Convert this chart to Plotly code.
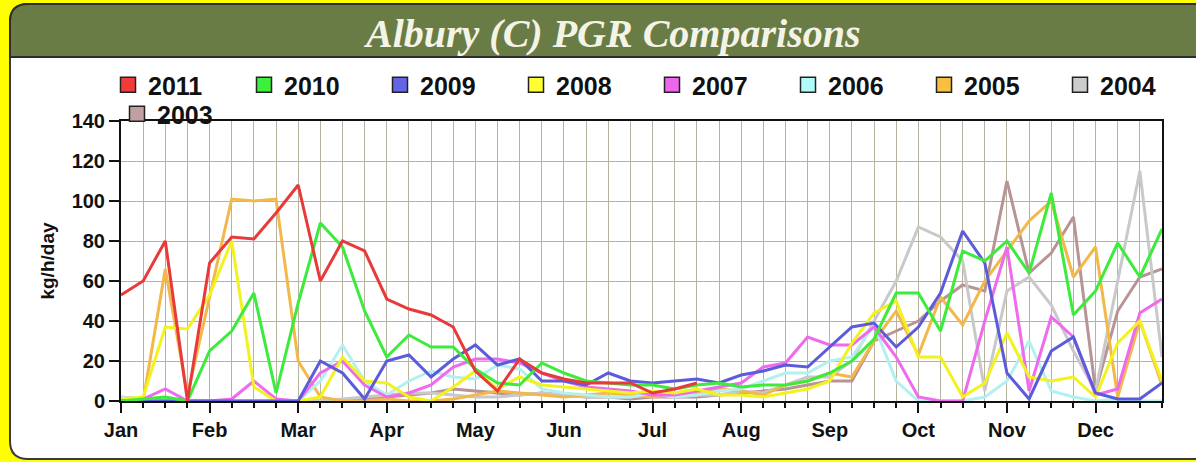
import plotly.graph_objects as go

# weekly points, 4 per month, Jan..Dec
months = ["Jan", "Feb", "Mar", "Apr", "May", "Jun", "Jul", "Aug", "Sep", "Oct", "Nov", "Dec"]
weeks = list(range(48))

years = ["2011", "2010", "2009", "2008", "2007", "2006", "2005", "2004", "2003"]

pgr_2011 = [53, 60, 80, 0, 69, 82, 81, 94, 108, 60, 80, 75, 51, 46, 43, 37, 15, 5, 21, 14,
            11, 9, 9, 9, 4, 6, 9] + [None] * 21
pgr_2010 = [0, 1, 2, 0, 25, 35, 54, 4, 49, 89, 77, 45, 22, 33, 27, 27, 16, 9, 8, 19,
            14, 10, 9, 8, 8, 6, 8, 9, 7, 8, 8, 10, 14, 20, 31, 54, 54, 35, 75, 70,
            80, 64, 104, 43, 55, 79, 62, 86]
pgr_2009 = [0, 0, 0, 0, 0, 0, 0, 0, 0, 20, 14, 1, 20, 23, 12, 21, 28, 18, 21, 10,
            10, 8, 14, 10, 9, 10, 11, 9, 13, 15, 18, 17, 27, 37, 39, 27, 37, 54, 85, 69,
            14, 1, 25, 32, 4, 1, 1, 9]
pgr_2008 = [1, 2, 37, 36, 53, 80, 7, 0, 0, 2, 22, 10, 9, 2, 0, 7, 15, 6, 12, 8,
            7, 6, 5, 4, 5, 4, 6, 3, 3, 2, 4, 6, 10, 29, 44, 50, 22, 22, 2, 9,
            34, 12, 10, 12, 2, 29, 40, 10]
pgr_2007 = [0, 1, 6, 0, 0, 1, 10, 1, 0, 14, 20, 8, 2, 4, 8, 17, 21, 21, 19, 14,
            10, 7, 6, 5, 3, 3, 5, 7, 9, 17, 19, 32, 28, 28, 37, 22, 2, 0, 0, 40,
            77, 5, 42, 32, 3, 6, 44, 51]
pgr_2006 = [2, 0, 2, 0, 0, 0, 0, 0, 0, 10, 28, 10, 3, 10, 15, 12, 11, 18, 16, 6,
            4, 3, 2, 2, 4, 2, 3, 5, 6, 10, 14, 14, 20, 22, 38, 10, 0, 0, 0, 2,
            10, 30, 5, 2, 0, 1, 0, 0]
pgr_2005 = [2, 0, 66, 3, 52, 101, 100, 101, 20, 2, 0, 0, 1, 0, 0, 1, 3, 5, 4, 3,
            2, 3, 4, 3, 2, 3, 4, 6, 5, 3, 8, 10, 14, 12, 30, 45, 23, 52, 38, 60,
            75, 90, 100, 62, 77, 2, 40, 8]
pgr_2004 = [2, 1, 0, 0, 0, 0, 0, 0, 0, 0, 1, 2, 3, 4, 4, 3, 2, 2, 3, 4,
            3, 2, 2, 2, 3, 2, 3, 3, 5, 4, 8, 12, 12, 20, 40, 60, 87, 82, 70, 5,
            55, 62, 48, 25, 5, 60, 115, 22]
pgr_2003 = [1, 0, 0, 0, 0, 0, 0, 0, 0, 0, 0, 1, 2, 3, 4, 6, 5, 4, 3, 4,
            3, 2, 2, 1, 2, 2, 2, 3, 4, 5, 6, 8, 10, 10, 30, 35, 40, 50, 58, 55,
            110, 64, 74, 92, 5, 45, 62, 66]

series = [pgr_2011, pgr_2010, pgr_2009, pgr_2008, pgr_2007, pgr_2006, pgr_2005, pgr_2004, pgr_2003]
line_colors = ["#E83A3A", "#3CEB3C", "#5B5BDB", "#F2F21E", "#EE6BEE",
               "#B4F0F0", "#F2B84A", "#C9C9C9", "#B89494"]
swatch_colors = ["#F23C3C", "#3CF03C", "#6464E6", "#FFFF33", "#EE66EE",
                 "#B0FAFA", "#F8C040", "#CCCCCC", "#C0A0A0"]

W, H = 1196, 462
L, R, T, B = 121, 34, 121, 61
PW, PH = W - L - R, H - T - B


def px(x, y):
    # pixel position -> paper coords
    return (x - L) / PW, (H - B - y) / PH


def path(points):
    out = []
    for cmd, pts in points:
        coords = " ".join("%.5f,%.5f" % px(*p) for p in pts)
        out.append(cmd + coords)
    return " ".join(out) + " Z"


fig = go.Figure()

# legend swatches (squares)
for i, yr in enumerate(years):
    fig.add_trace(
        go.Scatter(
            x=[None], y=[None], mode="markers", name=yr,
            marker=dict(symbol="square", size=15, color=swatch_colors[i],
                        line=dict(color="#222", width=1.5)),
            legend="legend2" if yr == "2003" else "legend",
            hoverinfo="skip",
        )
    )

# oldest drawn first so 2011 sits on top
for i in reversed(range(len(years))):
    fig.add_trace(
        go.Scatter(
            x=weeks, y=series[i], mode="lines", name=years[i],
            line=dict(color=line_colors[i], width=3),
            showlegend=False,
        )
    )

# panel + title bar
r = 18
x0, x1, y0, y1 = 10, 1215, 4, 459
panel = path([("M", [(x0 + r, y0)]), ("L", [(x1, y0)]), ("L", [(x1, y1)]), ("L", [(x0 + r, y1)]),
              ("Q", [(x0, y1), (x0, y1 - r)]), ("L", [(x0, y0 + r)]), ("Q", [(x0, y0), (x0 + r, y0)])])
bar = path([("M", [(x0 + r, y0)]), ("L", [(x1, y0)]), ("L", [(x1, 57)]), ("L", [(x0, 57)]),
            ("L", [(x0, y0 + r)]), ("Q", [(x0, y0), (x0 + r, y0)])])
fig.add_shape(type="path", path=panel, xref="paper", yref="paper", layer="below",
              fillcolor="white", line=dict(color="#3a3a3a", width=2))
fig.add_shape(type="path", path=bar, xref="paper", yref="paper", layer="below",
              fillcolor="#6A7C46", line=dict(color="#2e2e2e", width=2))

tx, ty = px(612, 33)
fig.add_annotation(
    text="Albury (C) PGR Comparisons", x=tx, y=ty, xref="paper", yref="paper",
    xanchor="center", yanchor="middle", showarrow=False,
    font=dict(family="Liberation Serif", size=40, color="#F4F4E6", weight="bold", style="italic"),
)

lx, ly1 = px(117, 62)
_, ly2 = px(117, 91)
legend_font = dict(family="Liberation Sans", size=25, color="#111", weight="bold")

grid = "#B8B39F"
fig.update_layout(
    width=W, height=H, autosize=False,
    margin=dict(l=L, r=R, t=T, b=B),
    paper_bgcolor="#FFFF00",
    plot_bgcolor="#FFFCE0",
    showlegend=True,
    legend=dict(orientation="h", x=lx, y=ly1, xanchor="left", yanchor="top",
                entrywidth=91, font=legend_font, bgcolor="rgba(0,0,0,0)"),
    legend2=dict(orientation="h", x=lx, y=ly2, xanchor="left", yanchor="top",
                 entrywidth=91, font=legend_font, bgcolor="rgba(0,0,0,0)"),
    xaxis=dict(
        range=[0, 47], tickmode="array", tickvals=list(range(0, 48, 4)), ticktext=months,
        ticks="outside", ticklen=10, tickwidth=2, tickcolor="#111",
        showline=True, linewidth=2, linecolor="#111", mirror=True,
        showgrid=True, gridcolor=grid, gridwidth=1, zeroline=False,
        minor=dict(dtick=1, tick0=0, ticks="outside", ticklen=5, tickwidth=2,
                   tickcolor="#111", showgrid=True, gridcolor=grid, gridwidth=1),
        tickfont=dict(family="Liberation Sans", size=20, color="#111", weight="bold"),
    ),
    yaxis=dict(
        range=[0, 140], dtick=20, ticks="outside", ticklen=10, tickwidth=2, tickcolor="#111",
        showline=True, linewidth=2, linecolor="#111", mirror=True,
        showgrid=True, gridcolor=grid, gridwidth=1, zeroline=False,
        tickfont=dict(family="Liberation Sans", size=20, color="#111", weight="bold"),
        title=dict(text="kg/h/day", standoff=12,
                   font=dict(family="Liberation Sans", size=19, color="#111", weight="bold")),
    ),
)

# page body has a default 8px margin; drop it so the figure fills the window
fig.write_html("out.html", config={"displayModeBar": False},
               post_script="document.body.style.margin='0';")
